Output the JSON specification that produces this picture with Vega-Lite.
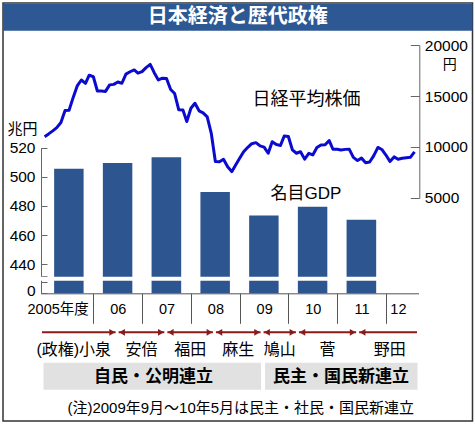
{
  "$schema": "https://vega.github.io/schema/vega-lite/v6.json",
  "width": 469.5,
  "height": 418,
  "autosize": {"type": "none"},
  "padding": {"left": 3, "top": 3, "right": 2.5, "bottom": 3},
  "background": "white",
  "config": {
    "view": {"stroke": "#333333", "strokeWidth": 1.5},
    "font": "'Liberation Sans', 'Noto Sans CJK JP', sans-serif",
    "axis": {"labelFont": "'Liberation Sans', 'Noto Sans CJK JP', sans-serif", "titleFont": "'Liberation Sans', 'Noto Sans CJK JP', sans-serif", "domainColor": "#666666", "tickColor": "#666666", "labelColor": "#000000", "titleColor": "#000000", "grid": false, "labelFlush": false, "labelOverlap": false},
    "text": {"font": "'Liberation Sans', 'Noto Sans CJK JP', sans-serif", "color": "#000000"}
  },
  "datasets": {
    "gdp": [
      {"fy": "2005-04-01", "fy_end": "2006-04-01", "gdp": 505.5},
      {"fy": "2006-04-01", "fy_end": "2007-04-01", "gdp": 509.5},
      {"fy": "2007-04-01", "fy_end": "2008-04-01", "gdp": 513.5},
      {"fy": "2008-04-01", "fy_end": "2009-04-01", "gdp": 489.5},
      {"fy": "2009-04-01", "fy_end": "2010-04-01", "gdp": 473.5},
      {"fy": "2010-04-01", "fy_end": "2011-04-01", "gdp": 479.5},
      {"fy": "2011-04-01", "fy_end": "2012-04-01", "gdp": 470.5}
    ],
    "nikkei": [
      {"month": "2005-04-01", "close": 11006}, {"month": "2005-05-01", "close": 11280}, {"month": "2005-06-01", "close": 11580},
      {"month": "2005-07-01", "close": 11900}, {"month": "2005-08-01", "close": 12400}, {"month": "2005-09-01", "close": 13570},
      {"month": "2005-10-01", "close": 13610}, {"month": "2005-11-01", "close": 14870}, {"month": "2005-12-01", "close": 16000},
      {"month": "2006-01-01", "close": 16580}, {"month": "2006-02-01", "close": 16250}, {"month": "2006-03-01", "close": 17050},
      {"month": "2006-04-01", "close": 16900}, {"month": "2006-05-01", "close": 15500}, {"month": "2006-06-01", "close": 15500},
      {"month": "2006-07-01", "close": 15460}, {"month": "2006-08-01", "close": 16100}, {"month": "2006-09-01", "close": 16150},
      {"month": "2006-10-01", "close": 16380}, {"month": "2006-11-01", "close": 16260}, {"month": "2006-12-01", "close": 17160},
      {"month": "2007-01-01", "close": 17390}, {"month": "2007-02-01", "close": 17570}, {"month": "2007-03-01", "close": 17250},
      {"month": "2007-04-01", "close": 17400}, {"month": "2007-05-01", "close": 17800}, {"month": "2007-06-01", "close": 18120},
      {"month": "2007-07-01", "close": 17300}, {"month": "2007-08-01", "close": 16580}, {"month": "2007-09-01", "close": 16760},
      {"month": "2007-10-01", "close": 16720}, {"month": "2007-11-01", "close": 15650}, {"month": "2007-12-01", "close": 15250},
      {"month": "2008-01-01", "close": 13650}, {"month": "2008-02-01", "close": 13620}, {"month": "2008-03-01", "close": 12500},
      {"month": "2008-04-01", "close": 13800}, {"month": "2008-05-01", "close": 14290}, {"month": "2008-06-01", "close": 13550},
      {"month": "2008-07-01", "close": 13350}, {"month": "2008-08-01", "close": 12950}, {"month": "2008-09-01", "close": 11300},
      {"month": "2008-10-01", "close": 8560}, {"month": "2008-11-01", "close": 8540}, {"month": "2008-12-01", "close": 8790},
      {"month": "2009-01-01", "close": 8050}, {"month": "2009-02-01", "close": 7570}, {"month": "2009-03-01", "close": 8200},
      {"month": "2009-04-01", "close": 8880}, {"month": "2009-05-01", "close": 9530}, {"month": "2009-06-01", "close": 9960},
      {"month": "2009-07-01", "close": 10320}, {"month": "2009-08-01", "close": 10420}, {"month": "2009-09-01", "close": 10100},
      {"month": "2009-10-01", "close": 9980}, {"month": "2009-11-01", "close": 9380}, {"month": "2009-12-01", "close": 10510},
      {"month": "2010-01-01", "close": 10230}, {"month": "2010-02-01", "close": 10150}, {"month": "2010-03-01", "close": 11070},
      {"month": "2010-04-01", "close": 11020}, {"month": "2010-05-01", "close": 9720}, {"month": "2010-06-01", "close": 9380},
      {"month": "2010-07-01", "close": 9530}, {"month": "2010-08-01", "close": 8800}, {"month": "2010-09-01", "close": 9370},
      {"month": "2010-10-01", "close": 9210}, {"month": "2010-11-01", "close": 9950}, {"month": "2010-12-01", "close": 10200},
      {"month": "2011-01-01", "close": 10210}, {"month": "2011-02-01", "close": 10620}, {"month": "2011-03-01", "close": 9770},
      {"month": "2011-04-01", "close": 9780}, {"month": "2011-05-01", "close": 9700}, {"month": "2011-06-01", "close": 9760},
      {"month": "2011-07-01", "close": 9780}, {"month": "2011-08-01", "close": 8980}, {"month": "2011-09-01", "close": 8660},
      {"month": "2011-10-01", "close": 8900}, {"month": "2011-11-01", "close": 8450}, {"month": "2011-12-01", "close": 8520},
      {"month": "2012-01-01", "close": 9150}, {"month": "2012-02-01", "close": 9950}, {"month": "2012-03-01", "close": 9750},
      {"month": "2012-04-01", "close": 9200}, {"month": "2012-05-01", "close": 8560}, {"month": "2012-06-01", "close": 9020},
      {"month": "2012-07-01", "close": 8790}, {"month": "2012-08-01", "close": 8880}, {"month": "2012-09-01", "close": 8930},
      {"month": "2012-10-01", "close": 8980}, {"month": "2012-11-01", "close": 9520}
    ],
    "regimes": [
      {"name": "小泉", "label": "(政権)小泉", "start": "2001-04-26", "end": "2006-09-26"},
      {"name": "安倍", "label": "安倍", "start": "2006-09-26", "end": "2007-09-26"},
      {"name": "福田", "label": "福田", "start": "2007-09-26", "end": "2008-09-24"},
      {"name": "麻生", "label": "麻生", "start": "2008-09-24", "end": "2009-09-16"},
      {"name": "鳩山", "label": "鳩山", "start": "2009-09-16", "end": "2010-06-08"},
      {"name": "菅", "label": "菅", "start": "2010-06-08", "end": "2011-09-02"},
      {"name": "野田", "label": "野田", "start": "2011-09-02", "end": "2012-12-26"}
    ],
    "coalitions": [
      {"coalition": "自民・公明連立", "start": "1999-10-05", "end": "2009-09-16"},
      {"coalition": "民主・国民新連立", "start": "2009-09-16", "end": "2012-12-26"}
    ]
  },
  "layer": [
    {
      "layer": [
        {
          "data": {"name": "gdp"},
          "mark": {"type": "rect", "color": "#2d5590", "xOffset": 9.5, "x2Offset": -9.75},
          "encoding": {
            "x": {"field": "fy", "type": "temporal",
              "scale": {"type": "time", "domain": [{"year": 2005, "month": 3, "date": 1}, {"year": 2012, "month": 12, "date": 1}], "range": [37.5, 415.5], "clamp": true},
              "axis": {
                "orient": "bottom", "offset": -127.7, "title": null,
                "values": [{"year": 2005, "month": 4, "date": 1}, {"year": 2006, "month": 4, "date": 1}, {"year": 2007, "month": 4, "date": 1}, {"year": 2008, "month": 4, "date": 1}, {"year": 2009, "month": 4, "date": 1}, {"year": 2010, "month": 4, "date": 1}, {"year": 2011, "month": 4, "date": 1}, {"year": 2012, "month": 4, "date": 1}],
                "domainColor": "#555555", "tickColor": "#555555", "tickSize": 30,
                "tickOpacity": {"condition": {"test": "year(datum.value) == 2005", "value": 0}, "value": 1},
                "labelExpr": "year(datum.value) == 2005 ? '2005年度' : timeFormat(datum.value, '%y')",
                "labelOffset": {"condition": [{"test": "year(datum.value) == 2005", "value": 13}, {"test": "year(datum.value) == 2012", "value": 12}], "value": 24.5},
                "labelPadding": -21.3, "labelBaseline": "top", "labelAlign": "center", "labelFontSize": 14.5
              }
            },
            "x2": {"field": "fy_end"},
            "y": {"field": "gdp", "type": "quantitative",
              "scale": {"type": "linear", "domain": [0, 428, 520], "range": [290.3, 278.6, 144.7], "zero": false, "nice": false},
              "axis": {
                "orient": "left", "offset": -38, "values": [0, 428, 432, 440, 460, 480, 500, 520],
                "labelExpr": "datum.value == 428 || datum.value == 432 ? '' : datum.label",
                "labelOffset": {"condition": {"test": "datum.value == 0", "value": -3}, "value": 0},
                "tickSize": -6, "labelPadding": 12, "labelFontSize": 15.5,
                "title": "兆円", "titleAngle": 0, "titleX": -19, "titleY": 125.5, "titleAlign": "center", "titleBaseline": "middle", "titleFontSize": 15, "titleFontWeight": "normal"
              }
            },
            "y2": {"datum": 0}
          }
        },
        {
          "data": {"values": [{}]},
          "mark": {"type": "rect", "color": "white"},
          "encoding": {
            "x": {"datum": {"year": 2005, "month": 3, "date": 1}, "type": "temporal",
              "scale": {"type": "time", "domain": [{"year": 2005, "month": 3, "date": 1}, {"year": 2012, "month": 12, "date": 1}], "range": [37.5, 415.5], "clamp": true}},
            "x2": {"datum": {"year": 2012, "month": 12, "date": 1}},
            "y": {"datum": 428.6, "type": "quantitative",
              "scale": {"type": "linear", "domain": [0, 428, 520], "range": [290.3, 278.6, 144.7], "zero": false, "nice": false}},
            "y2": {"datum": 431.4}
          }
        },
        {
          "data": {"values": [{}]},
          "mark": {"type": "text", "fontSize": 17, "align": "center", "baseline": "middle"},
          "encoding": {
            "x": {"datum": {"year": 2010, "month": 8, "date": 10}, "type": "temporal",
              "scale": {"type": "time", "domain": [{"year": 2005, "month": 3, "date": 1}, {"year": 2012, "month": 12, "date": 1}], "range": [37.5, 415.5], "clamp": true}},
            "y": {"datum": 488.5, "type": "quantitative",
              "scale": {"type": "linear", "domain": [0, 428, 520], "range": [290.3, 278.6, 144.7], "zero": false, "nice": false}},
            "text": {"value": "名目GDP"}
          }
        }
      ]
    },
    {
      "layer": [
        {
          "data": {"name": "nikkei"},
          "mark": {"type": "line", "color": "#0b0bd0", "strokeWidth": 3, "strokeJoin": "round"},
          "encoding": {
            "x": {"field": "month", "type": "temporal",
              "scale": {"type": "time", "domain": [{"year": 2005, "month": 3, "date": 1}, {"year": 2012, "month": 12, "date": 1}], "range": [37.5, 415.5], "clamp": true}},
            "y": {"field": "close", "type": "quantitative",
              "scale": {"type": "linear", "domain": [5000, 20000], "range": [194.8, 42.2], "zero": false, "nice": false},
              "axis": {
                "orient": "right", "offset": -53.2, "values": [5000, 10000, 15000, 20000], "format": "d",
                "tickSize": -9, "labelPadding": 14, "labelAlign": "left", "labelFontSize": 15.5,
                "title": "円", "titleAngle": 0, "titleX": 30, "titleY": 61, "titleAlign": "center", "titleBaseline": "middle", "titleFontSize": 14, "titleFontWeight": "normal"
              }
            }
          }
        },
        {
          "data": {"values": [{}]},
          "mark": {"type": "text", "fontSize": 18, "align": "center", "baseline": "middle"},
          "encoding": {
            "x": {"datum": {"year": 2010, "month": 8, "date": 15}, "type": "temporal",
              "scale": {"type": "time", "domain": [{"year": 2005, "month": 3, "date": 1}, {"year": 2012, "month": 12, "date": 1}], "range": [37.5, 415.5], "clamp": true}},
            "y": {"datum": 14610, "type": "quantitative",
              "scale": {"type": "linear", "domain": [5000, 20000], "range": [194.8, 42.2], "zero": false, "nice": false}},
            "text": {"value": "日経平均株価"}
          }
        }
      ]
    },
    {
      "layer": [
        {
          "data": {"name": "coalitions"},
          "mark": {"type": "bar", "color": "#e1e1e1", "size": 27, "yOffset": 1.8, "xOffset": 3, "x2Offset": -1},
          "encoding": {
            "x": {"field": "start", "type": "temporal",
              "scale": {"type": "time", "domain": [{"year": 2005, "month": 3, "date": 1}, {"year": 2012, "month": 12, "date": 1}], "range": [37.5, 415.5], "clamp": true}},
            "x2": {"field": "end"},
            "y": {"datum": "連立", "type": "nominal", "scale": {"type": "point", "domain": ["政権", "連立", "注"], "range": [337.5, 405.5], "padding": 0}, "axis": null}
          }
        },
        {
          "data": {"name": "coalitions"},
          "transform": [{"filter": "datum.coalition == '自民・公明連立'"}],
          "mark": {"type": "text", "fontSize": 17, "fontWeight": "bold", "align": "right", "baseline": "middle", "dx": -49, "dy": 2.5},
          "encoding": {
            "x": {"field": "end", "type": "temporal",
              "scale": {"type": "time", "domain": [{"year": 2005, "month": 3, "date": 1}, {"year": 2012, "month": 12, "date": 1}], "range": [37.5, 415.5], "clamp": true}},
            "y": {"datum": "連立", "type": "nominal", "scale": {"type": "point", "domain": ["政権", "連立", "注"], "range": [337.5, 405.5], "padding": 0}, "axis": null},
            "text": {"field": "coalition"}
          }
        },
        {
          "data": {"name": "coalitions"},
          "transform": [{"filter": "datum.coalition == '民主・国民新連立'"}],
          "mark": {"type": "text", "fontSize": 17, "fontWeight": "bold", "align": "left", "baseline": "middle", "dx": 11, "dy": 2.5},
          "encoding": {
            "x": {"field": "start", "type": "temporal",
              "scale": {"type": "time", "domain": [{"year": 2005, "month": 3, "date": 1}, {"year": 2012, "month": 12, "date": 1}], "range": [37.5, 415.5], "clamp": true}},
            "y": {"datum": "連立", "type": "nominal", "scale": {"type": "point", "domain": ["政権", "連立", "注"], "range": [337.5, 405.5], "padding": 0}, "axis": null},
            "text": {"field": "coalition"}
          }
        },
        {
          "data": {"name": "regimes"},
          "mark": {"type": "rule", "color": "#8b1a1a", "strokeWidth": 2, "yOffset": -8.2, "xOffset": 1.5, "x2Offset": -1.5},
          "encoding": {
            "x": {"field": "start", "type": "temporal",
              "scale": {"type": "time", "domain": [{"year": 2005, "month": 3, "date": 1}, {"year": 2012, "month": 12, "date": 1}], "range": [37.5, 415.5], "clamp": true}},
            "x2": {"field": "end"},
            "y": {"datum": "政権", "type": "nominal", "scale": {"type": "point", "domain": ["政権", "連立", "注"], "range": [337.5, 405.5], "padding": 0}, "axis": null}
          }
        },
        {
          "data": {"name": "regimes"},
          "transform": [{"filter": "datum.name != '小泉'"}],
          "mark": {"type": "point", "shape": "triangle-left", "filled": true, "opacity": 1, "color": "#8b1a1a", "size": 45, "yOffset": -8.2, "xOffset": 4.9},
          "encoding": {
            "x": {"field": "start", "type": "temporal",
              "scale": {"type": "time", "domain": [{"year": 2005, "month": 3, "date": 1}, {"year": 2012, "month": 12, "date": 1}], "range": [37.5, 415.5], "clamp": true}},
            "y": {"datum": "政権", "type": "nominal", "scale": {"type": "point", "domain": ["政権", "連立", "注"], "range": [337.5, 405.5], "padding": 0}, "axis": null}
          }
        },
        {
          "data": {"name": "regimes"},
          "transform": [{"filter": "datum.name != '野田'"}],
          "mark": {"type": "point", "shape": "triangle-right", "filled": true, "opacity": 1, "color": "#8b1a1a", "size": 45, "yOffset": -8.2, "xOffset": -4.9},
          "encoding": {
            "x": {"field": "end", "type": "temporal",
              "scale": {"type": "time", "domain": [{"year": 2005, "month": 3, "date": 1}, {"year": 2012, "month": 12, "date": 1}], "range": [37.5, 415.5], "clamp": true}},
            "y": {"datum": "政権", "type": "nominal", "scale": {"type": "point", "domain": ["政権", "連立", "注"], "range": [337.5, 405.5], "padding": 0}, "axis": null}
          }
        },
        {
          "data": {"name": "regimes", "format": {"parse": {"start": "date", "end": "date"}}},
          "transform": [
            {"filter": "datum.name != '小泉'"},
            {"fold": ["start", "end"], "as": ["bound", "date"]},
            {"aggregate": [{"op": "mean", "field": "date", "as": "mid"}], "groupby": ["label"]}
          ],
          "mark": {"type": "text", "fontSize": 16, "align": "center", "baseline": "middle", "dy": 9.2},
          "encoding": {
            "x": {"field": "mid", "type": "temporal",
              "scale": {"type": "time", "domain": [{"year": 2005, "month": 3, "date": 1}, {"year": 2012, "month": 12, "date": 1}], "range": [37.5, 415.5], "clamp": true}},
            "y": {"datum": "政権", "type": "nominal", "scale": {"type": "point", "domain": ["政権", "連立", "注"], "range": [337.5, 405.5], "padding": 0}, "axis": null},
            "text": {"field": "label"}
          }
        },
        {
          "data": {"name": "regimes"},
          "transform": [{"filter": "datum.name == '小泉'"}],
          "mark": {"type": "text", "fontSize": 16, "align": "right", "baseline": "middle", "dx": -6, "dy": 9.2},
          "encoding": {
            "x": {"field": "end", "type": "temporal",
              "scale": {"type": "time", "domain": [{"year": 2005, "month": 3, "date": 1}, {"year": 2012, "month": 12, "date": 1}], "range": [37.5, 415.5], "clamp": true}},
            "y": {"datum": "政権", "type": "nominal", "scale": {"type": "point", "domain": ["政権", "連立", "注"], "range": [337.5, 405.5], "padding": 0}, "axis": null},
            "text": {"field": "label"}
          }
        },
        {
          "data": {"values": [{"note": "(注)2009年9月～10年5月は民主・社民・国民新連立"}]},
          "mark": {"type": "text", "fontSize": 15, "align": "center", "baseline": "middle", "dx": 3, "dy": -0.5},
          "encoding": {
            "y": {"datum": "注", "type": "nominal", "scale": {"type": "point", "domain": ["政権", "連立", "注"], "range": [337.5, 405.5], "padding": 0}, "axis": null},
            "text": {"field": "note"}
          }
        }
      ]
    },
    {
      "data": {"values": [{"title": "日本経済と歴代政権"}]},
      "layer": [
        {
          "mark": {"type": "rect", "color": "#2d5893"},
          "encoding": {
            "y": {"field": "title", "type": "nominal", "scale": {"type": "band", "range": [1, 27.7], "paddingInner": 0, "paddingOuter": 0}, "axis": null}
          }
        },
        {
          "mark": {"type": "text", "fontSize": 20, "fontWeight": "bold", "color": "white", "align": "center", "baseline": "middle"},
          "encoding": {
            "y": {"field": "title", "type": "nominal", "scale": {"type": "band", "range": [1, 27.7], "paddingInner": 0, "paddingOuter": 0}, "axis": null},
            "text": {"field": "title"}
          }
        }
      ]
    }
  ],
  "resolve": {"scale": {"y": "independent"}, "axis": {"y": "independent"}}
}
